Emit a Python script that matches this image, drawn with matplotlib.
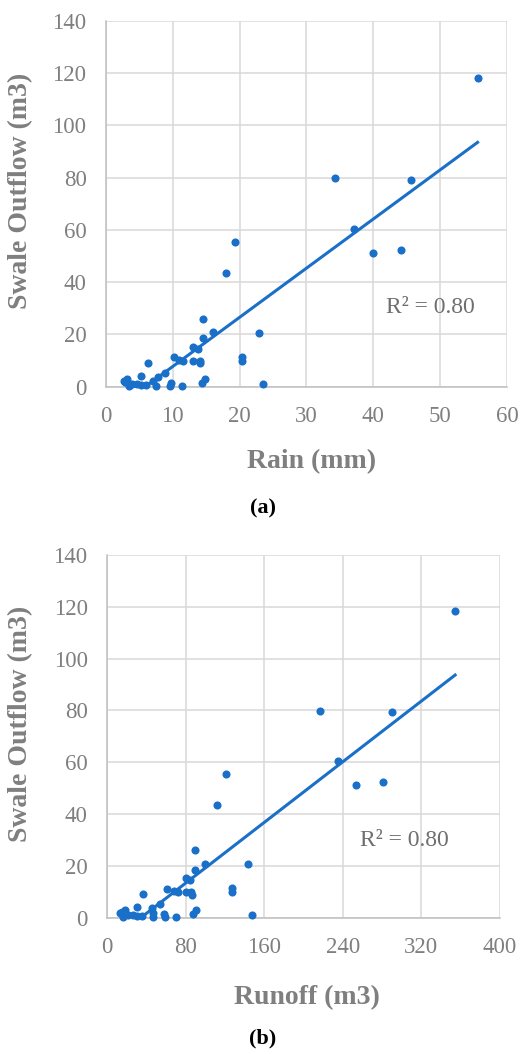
import numpy as np
import matplotlib
matplotlib.use("Agg")
from matplotlib import pyplot as plt

plt.rcParams["font.family"] = ["Liberation Serif", "DejaVu Serif"]

# event data (same events in both panels)
rain = [55.6, 34.3, 45.7, 37.1, 39.9, 44.2, 19.3, 18.0, 14.5, 16.0,
        22.9, 14.5, 13.0, 13.7, 10.2, 11.0, 11.5, 13.0, 14.0, 14.0,
        20.3, 20.3, 6.3, 8.8, 5.3, 7.8, 14.8, 14.3, 23.5, 9.8,
        9.6, 11.4, 7.5, 7.1, 2.7, 3.2, 3.4, 3.9, 4.6, 5.3,
        6.0, 2.9]
runoff = [354.3, 217.0, 290.4, 234.9, 253.0, 280.8, 121.0, 112.2, 89.4, 99.5,
          143.0, 89.4, 80.5, 84.6, 61.5, 68.0, 72.0, 80.0, 85.0, 86.0,
          126.7, 126.7, 36.6, 53.5, 30.2, 45.8, 90.8, 88.0, 147.9, 58.5,
          59.0, 70.0, 47.1, 47.1, 14.9, 18.3, 16.6, 21.7, 26.8, 30.2,
          35.3, 13.0]
outflow = [118.3, 79.8, 79.3, 60.4, 51.1, 52.2, 55.4, 43.5, 26.0, 20.9,
           20.6, 18.6, 15.2, 14.5, 11.2, 10.4, 10.0, 9.8, 9.9, 8.9,
           11.3, 9.8, 9.2, 5.4, 4.2, 3.7, 3.1, 1.4, 1.1, 1.4,
           0.4, 0.1, 0.4, 2.0, 2.3, 2.8, 0.4, 1.0, 1.0, 0.5,
           0.5, 1.7]

r2_label = "R² = 0.80"

blue = "#1a70c8"
grey = "#7f7f7f"

fig = plt.figure(figsize=(5.2, 10.54), dpi=100)
ax_a = fig.add_axes([0.2038, 0.6331, 0.7712, 0.3470])
ax_b = fig.add_axes([0.2058, 0.1293, 0.7558, 0.3441])


def draw_panel(ax, x, y, xmax, xstep, xlabel, r2_pos, xlab_coords, ylab_x, caption, cap_y):
    x = np.array(x)
    y = np.array(y)
    ax.scatter(x, y, s=34, color=blue, zorder=3, clip_on=False, linewidths=0)
    slope, icept = np.polyfit(x, y, 1)
    xs = np.array([x.min(), x.max()])
    ax.plot(xs, slope * xs + icept, color=blue, lw=2.2, zorder=2)
    ax.set_xlim(0, xmax)
    ax.set_ylim(0, 140)
    ax.set_xticks(np.arange(0, xmax + 1, xstep))
    ax.set_yticks(np.arange(0, 141, 20))
    ax.grid(True, color="#d9d9d9", lw=1.1, zorder=0)
    ax.set_axisbelow(True)
    for s in ["top", "right"]:
        ax.spines[s].set_visible(False)
    for s in ["left", "bottom"]:
        ax.spines[s].set_color("#bfbfbf")
        ax.spines[s].set_linewidth(1.1)
    ax.tick_params(length=0, labelsize=16.5, labelcolor=grey, pad=14)
    ax.set_xlabel(xlabel, fontsize=20, fontweight="bold", color=grey)
    ax.xaxis.set_label_coords(*xlab_coords)
    ax.set_ylabel("Swale Outflow (m3)", fontsize=20, fontweight="bold", color=grey)
    ax.yaxis.set_label_coords(ylab_x, 0.535)
    ax.text(r2_pos[0], r2_pos[1], r2_label, fontsize=17, color="#6f6f6f", va="center")
    fig.text(0.506, cap_y, caption, fontsize=16, fontweight="bold", ha="center", va="center")


draw_panel(ax_a, rain, outflow, 60, 10, "Rain (mm)", (41.9, 30.5), (0.513, -0.170), -0.182,
           "(a)", 1 - 508 / 1054)
draw_panel(ax_b, runoff, outflow, 400, 80, "Runoff (m3)", (257, 30), (0.508, -0.186), -0.188,
           "(b)", 1 - 1038 / 1054)

plt.savefig("out.png", dpi=100)
